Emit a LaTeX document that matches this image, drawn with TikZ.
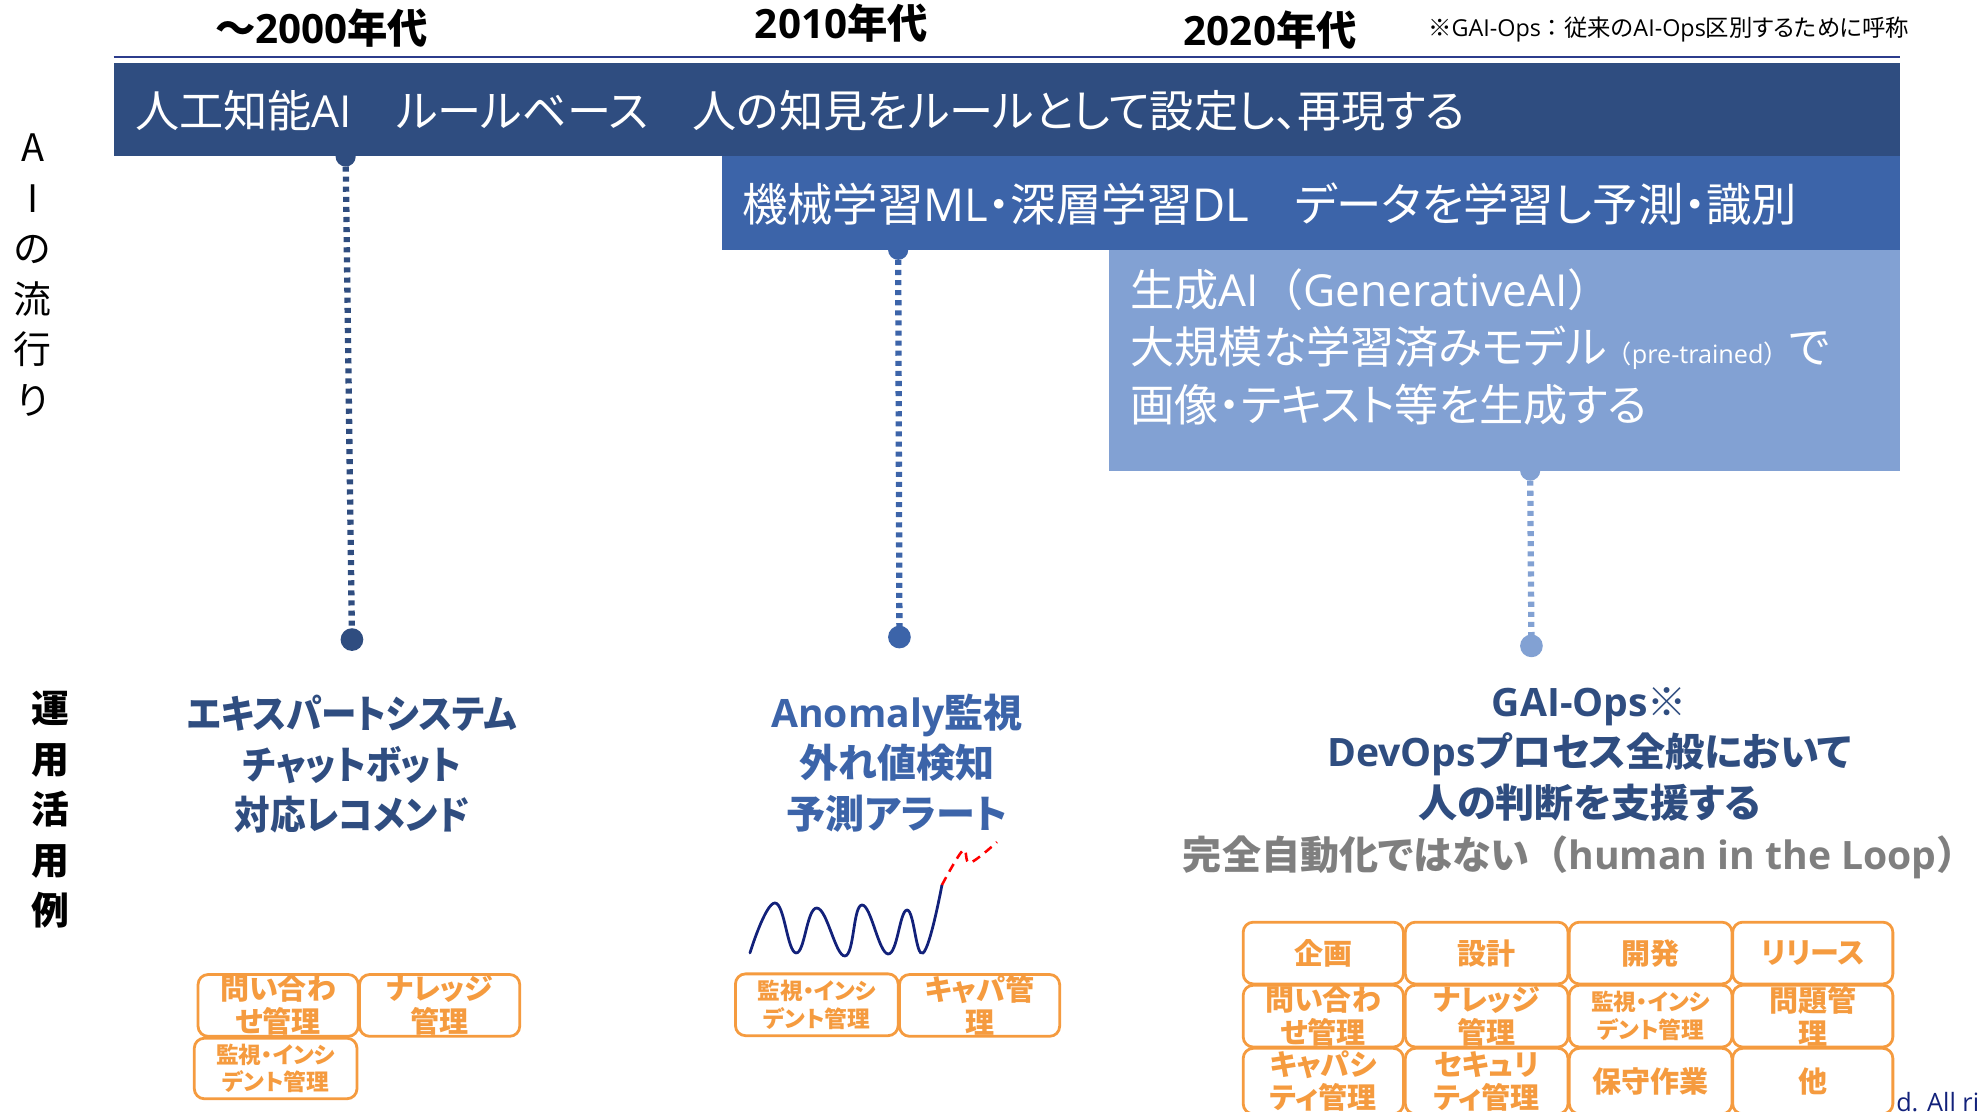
\documentclass[tikz,border=0pt]{standalone}
\usepackage{fontspec}
\setmainfont{Noto Sans CJK JP}
\newfontfamily\jp[RawFeature=+palt]{Noto Sans CJK JP}
\newfontfamily\jpnarrow[RawFeature=+palt,FakeStretch=0.91]{Noto Sans CJK JP}
\newfontfamily\jpfull{Noto Sans CJK JP}
\newfontfamily\latrun{Open Sans}
\definecolor{navyband}{HTML}{2F4D80}
\definecolor{midband}{HTML}{3C64A9}
\definecolor{lightband}{HTML}{82A1D3}
\definecolor{tagorange}{HTML}{F59B3F}
\definecolor{rule}{HTML}{2C3C8C}
\definecolor{wavenavy}{HTML}{12217A}
\definecolor{loopgray}{HTML}{7F7F7F}
\newcommand{\fw}[1]{{\jpfull #1}}
\begin{document}
\begin{tikzpicture}[x=1pt,y=-1pt,
  bandtext/.style={anchor=west, text=white, inner sep=0pt, font=\jp\fontsize{35}{46}\selectfont},
  era/.style={inner sep=0pt, font=\jp\bfseries\fontsize{32}{36}\selectfont},
  usecase/.style={inner sep=0pt, align=center, font=\jp\bfseries\fontsize{31}{40}\selectfont},
  pin/.style={circle, inner sep=0pt, minimum size=16pt, draw=none},
  trail/.style={line width=5pt, dash pattern=on 4pt off 4pt},
  tag/.style={draw=tagorange, line width=2.2pt, rounded corners=8pt, fill=white,
    text=tagorange, align=center, inner sep=0pt, minimum width=127pt, minimum height=49pt,
    font=\jp\bfseries\fontsize{23}{26}\selectfont},
  smalltag/.style={tag, font=\jp\bfseries\fontsize{18}{22}\selectfont},
]
\useasboundingbox (0,0) rectangle (1568,881);

% headings of the decades
\node[era] (e2000) at (255,22) {～{\latrun 2000}年代};
\node[era] (e2010) at (667,18) {{\latrun 2010}年代};
\node[era] (e2020) at (1007,24) {{\latrun 2020}年代};
\node[anchor=west, inner sep=0pt, font=\jp\fontsize{18.5}{21}\selectfont] (note) at (1132,23)
  {※{\latrun GAI-Ops}\fw{：}従来の{\latrun AI-Ops}区別するために呼称};
\draw[rule, line width=1.6pt] (90,45) -- (1506,45);

% side captions
\node[inner sep=0pt, align=center, font=\jp\fontsize{30}{40}\selectfont] (trend) at (26,218) {A\\I\\の\\流\\行\\り};
\node[inner sep=0pt, align=center, font=\jp\bfseries\fontsize{30}{40}\selectfont] (usage) at (40,642) {運\\用\\活\\用\\例};

% timeline pins and dotted connectors
\node[pin, fill=navyband] (p1a) at (274,124) {};
\node[pin, fill=navyband, minimum size=18pt] (p1b) at (279,507) {};
\draw[trail, navyband] (p1a.center) -- (p1b.center);
\node[pin, fill=midband] (p2a) at (712,198) {};
\node[pin, fill=midband, minimum size=18pt] (p2b) at (713,505) {};
\draw[trail, midband] (p2a.center) -- (p2b.center);
\node[pin, fill=lightband] (p3a) at (1213,373) {};
\node[pin, fill=lightband, minimum size=18pt] (p3b) at (1214,512) {};
\draw[trail, lightband] (p3a.center) -- (p3b.center);

% the three AI bands
\fill[navyband] (90,50) rectangle (1506,124);
\fill[midband] (572,124) rectangle (1506,198);
\fill[lightband] (879,198) rectangle (1506,373);
\node[bandtext] (rule) at (107,88) {人工知能{\latrun AI}　ルールベース　人の知見をルールとして設定し、再現する};
\node[bandtext, font=\jp\fontsize{36}{46}\selectfont] (ml) at (588,162) {機械学習{\latrun ML}・深層学習{\latrun DL}　データを学習し予測・識別};
\node[bandtext] (gen1) at (896,230) {生成{\latrun AI}\fw{（}{\latrun GenerativeAI}\fw{）}};
\node[bandtext] (gen2) at (896,276) {大規模な学習済みモデル{\fontsize{20}{22}\selectfont\fw{（}{\latrun pre-trained}\fw{）}}で};
\node[bandtext] (gen3) at (896,321) {画像・テキスト等を生成する};

% use cases
\node[usecase, text=navyband, font=\jpnarrow\bfseries\fontsize{31}{40}\selectfont] (expert) at (279,606) {エキスパートシステム\\チャットボット\\対応レコメンド};
\node[usecase, text=midband] (anomaly) at (711,605) {{\latrun Anomaly}監視\\外れ値検知\\予測アラート};
\node[usecase, text=navyband] (gaiops) at (1260,598) {{\latrun GAI-Ops}※\\{\latrun DevOps}プロセス全般において\\人の判断を支援する};
\node[usecase, text=loopgray] (loop) at (1252,680) {完全自動化ではない\fw{（}{\latrun human in the Loop}\fw{）}};

% anomaly sketch
\draw[wavenavy, line width=2.2pt, line cap=round] plot[smooth, tension=0.75] coordinates {
  (594.5,755.4) (614.3,715.8) (631,755.4) (647.6,719.8) (669.8,757.8)
  (683.3,717.4) (703.9,756.2) (719,721.4) (731.7,755.4) (746.7,701.5)};
\draw[red, line width=2pt, dash pattern=on 7pt off 5pt] plot[smooth, tension=0.6] coordinates {
  (746.7,701.5) (763.4,674) (768.9,684) (790.3,667.5)};

% copyright line partly hidden behind the tags
\node[anchor=base west, inner sep=0pt, text=wavenavy, font=\latrun\fontsize{20}{24}\selectfont] (copy) at (1503,881) {d. All ri};

% operation tags, 2000s
\node[tag] (a1) at (220.5,797) {問い合わ\\せ管理};
\node[tag] (a2) at (348.5,797) {ナレッジ\\管理};
\node[smalltag, minimum width=129pt, minimum height=48pt] (a3) at (218.5,847) {監視・インシ\\デント管理};

% operation tags, 2010s
\node[smalltag, minimum width=129pt] (b1) at (647.5,796.5) {監視・インシ\\デント管理};
\node[tag] (b2) at (776.5,797) {キャパ管\\理};

% operation tags, 2020s
\node[tag] (c11) at (1049,755.5) {企画};
\node[tag, minimum width=129pt] (c12) at (1178.5,755.5) {設計};
\node[tag, minimum width=129pt] (c13) at (1308.5,755.5) {開発};
\node[tag] (c14) at (1437,755.5) {リリース};
\node[tag] (c21) at (1049,805.5) {問い合わ\\せ管理};
\node[tag, minimum width=129pt] (c22) at (1178.5,805.5) {ナレッジ\\管理};
\node[smalltag, minimum width=129pt] (c23) at (1308.5,805.5) {監視・インシ\\デント管理};
\node[tag] (c24) at (1437,805.5) {問題管\\理};
\node[tag, minimum height=52pt] (c31) at (1049,857) {キャパシ\\ティ管理};
\node[tag, minimum width=129pt, minimum height=52pt] (c32) at (1178.5,857) {セキュリ\\ティ管理};
\node[tag, minimum width=129pt, minimum height=52pt] (c33) at (1308.5,857) {保守作業};
\node[tag, minimum height=52pt] (c34) at (1437,857) {他};
\end{tikzpicture}
\end{document}
